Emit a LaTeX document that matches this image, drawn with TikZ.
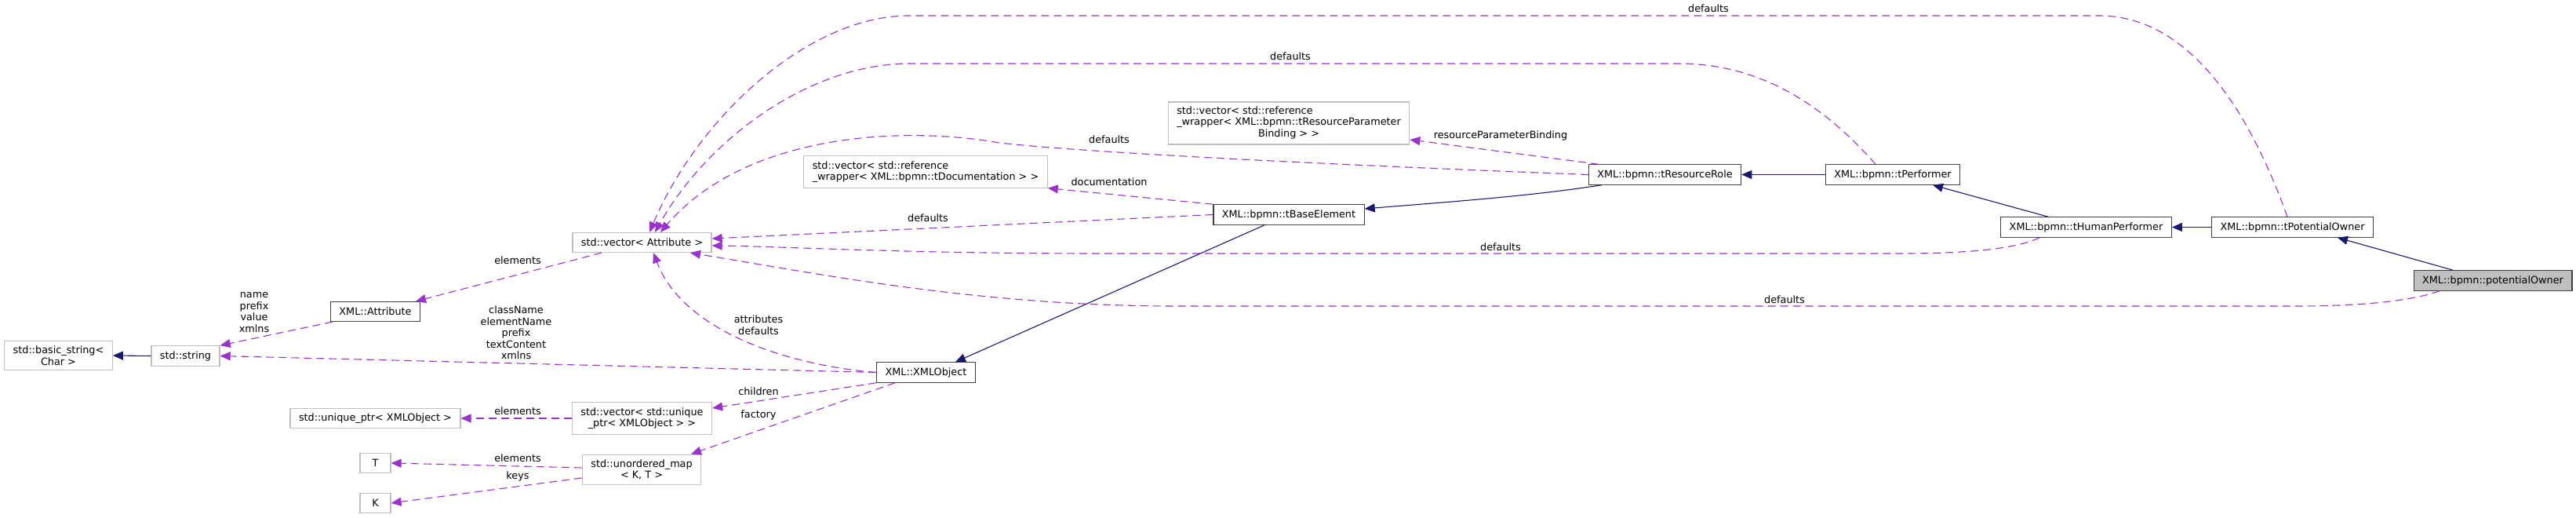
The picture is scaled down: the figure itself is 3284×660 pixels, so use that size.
\documentclass[tikz,border=0pt]{standalone}
\usepackage{fontspec}
\setmainfont{DejaVu Sans}
\usepackage{xcolor}
\usetikzlibrary{arrows.meta}
\definecolor{useedge}{HTML}{9A32CD}
\definecolor{inhedge}{HTML}{191970}
\definecolor{extline}{HTML}{BFBFBF}
\definecolor{clsline}{HTML}{404040}
\definecolor{focusfill}{HTML}{BFBFBF}

\begin{document}
\begin{tikzpicture}[
  x=1pt,y=-1pt,
  font=\fontsize{12.8pt}{14.5pt}\selectfont,
  cls/.style={draw=clsline,line width=1.2pt,fill=white,inner xsep=11pt,inner ysep=6.5pt,minimum height=25pt,minimum width=39pt},
  ext/.style={cls,draw=extline},
  focus/.style={cls,fill=focusfill},
  lbl/.style={inner sep=0pt,align=center},
  uses/.style={-{Triangle[length=13pt,width=11pt]},draw=useedge,line width=1.1pt,dash pattern=on 10pt off 6pt},
  inh/.style={-{Triangle[length=13pt,width=11pt]},draw=inhedge,line width=1.1pt}
]
\fill[white] (0,0) rectangle (3284,660);
\useasboundingbox (0,0) rectangle (3284,660);
% classes
\node[ext,align=center] (bstr) at (74.5,453) {std::basic\_string<\\Char >};
\node[ext] (str) at (236.5,453.5) {std::string};
\node[cls] (attr) at (478.5,397) {XML::Attribute};
\node[ext] (vecattr) at (818.5,309) {std::vector< Attribute >};
\node[ext] (uptr) at (478.5,533) {std::unique\_ptr< XMLObject >};
\node[ext,align=center] (vecuptr) at (818.5,533) {std::vector< std::unique\\\_ptr< XMLObject > >};
\node[ext] (tT) at (478.5,590) {T};
\node[ext] (tK) at (478.5,641) {K};
\node[ext,align=center] (umap) at (818,598.5) {std::unordered\_map\\< K, T >};
\node[cls] (xmlobj) at (1180.5,474.5) {XML::XMLObject};
\node[ext,align=left] (vecdoc) at (1180,219) {std::vector< std::reference\\\_wrapper< XML::bpmn::tDocumentation > >};
\node[ext,inner ysep=5.3pt] (vecrpb) at (1643,157) {\begin{tabular}{@{}l@{}}std::vector< std::reference\\\_wrapper< XML::bpmn::tResourceParameter\\\multicolumn{1}{@{}c@{}}{Binding > >}\end{tabular}};
\node[cls] (base) at (1643,273.5) {XML::bpmn::tBaseElement};
\node[cls] (role) at (2122.5,222.5) {XML::bpmn::tResourceRole};
\node[cls] (perf) at (2413,222.5) {XML::bpmn::tPerformer};
\node[cls] (human) at (2659.5,289.5) {XML::bpmn::tHumanPerformer};
\node[cls] (tpo) at (2922.5,289.5) {XML::bpmn::tPotentialOwner};
\node[focus] (po) at (3178,357.5) {XML::bpmn::potentialOwner};
% labels
\node[lbl] (l-tpo) at (2178,11) {defaults};
\node[lbl] (l-perf) at (1645,72) {defaults};
\node[lbl] (l-role) at (1414,178) {defaults};
\node[lbl] (l-rpb) at (1913,173) {resourceParameterBinding};
\node[lbl] (l-doc) at (1414,232) {documentation};
\node[lbl] (l-base) at (1183,278) {defaults};
\node[lbl] (l-human) at (1913,315) {defaults};
\node[lbl] (l-po) at (2275,382) {defaults};
\node[lbl] (l-attrs) at (967,414) {attributes\\defaults};
\node[lbl] (l-strs) at (658,424) {className\\elementName\\prefix\\textContent\\xmlns};
\node[lbl] (l-names) at (324,398) {name\\prefix\\value\\xmlns};
\node[lbl] (l-elem) at (660,332) {elements};
\node[lbl] (l-child) at (967,499) {children};
\node[lbl] (l-fact) at (967,529) {factory};
\node[lbl] (l-uptr) at (660,524) {elements};
\node[lbl] (l-vals) at (660,584) {elements};
\node[lbl] (l-keys) at (660,607) {keys};
% usage
\draw[uses] ([xshift=-6.5pt]tpo.north) .. controls (2860,120) and (2780,20) .. (2676,20) -- (1159,20) .. controls (1030,20) and (890,150) .. ([xshift=9.5pt]vecattr.north);
\draw[uses] ([xshift=-22pt]perf.north) .. controls (2330,140) and (2250,81) .. (2140,81) -- (1160,81) .. controls (1030,81) and (900,180) .. ([xshift=16.5pt]vecattr.north);
\draw[uses] (role.west) .. controls (1750,212) and (1400,196) .. (1274,182) .. controls (1150,160) and (950,170) .. ([xshift=23.5pt]vecattr.north);
\draw[uses] ([xshift=13pt]role.north west) -- ([yshift=-21pt]vecrpb.east);
\draw[uses] (base.north west) -- (vecdoc.south east);
\draw[uses] (base.west) -- ([yshift=5pt]vecattr.east);
\draw[uses] ([xshift=-59.5pt]human.south) .. controls (2570,318) and (2500,323) .. (2425,323) -- (1400,323) .. controls (1150,323) and (1000,314) .. ([yshift=-4pt]vecattr.east);
\draw[uses] ([xshift=-68pt]po.south) .. controls (3070,385) and (3000,390) .. (2928,390) -- (1500,390) .. controls (1250,390) and (1050,350) .. ([xshift=61.5pt]vecattr.south);
\draw[uses] (xmlobj.west) .. controls (1000,465) and (870,420) .. ([xshift=14.5pt]vecattr.south);
\draw[uses] (xmlobj.west) -- (str.east);
\draw[uses] (xmlobj.south west) -- ([yshift=13pt]vecuptr.east);
\draw[uses] ([xshift=24pt]xmlobj.south west) -- ([xshift=63pt]umap.north);
\draw[uses] ([xshift=-51.5pt]vecattr.south) -- ([xshift=51.5pt]attr.north);
\draw[uses] ([xshift=3pt]attr.south west) -- (str.north east);
\draw[uses] (vecuptr.west) -- (uptr.east);
\draw[uses] ([yshift=2.5pt]umap.west) -- (tT.east);
\draw[uses] ([yshift=-10.5pt]umap.west) -- (tK.east);
% inheritance
\draw[inh] (str.west) -- (bstr.east);
\draw[inh] ([xshift=-31pt]base.south) -- ([xshift=37.5pt]xmlobj.north);
\draw[inh] ([xshift=17pt]role.south west) .. controls (1950,250) and (1850,257) .. ([yshift=7.5pt]base.east);
\draw[inh] (perf.west) -- (role.east);
\draw[inh] ([xshift=-48.5pt]human.north) -- ([xshift=51pt]perf.south);
\draw[inh] (tpo.west) -- (human.east);
\draw[inh] ([xshift=-51pt]po.north) -- ([xshift=57.5pt]tpo.south);
\end{tikzpicture}
\end{document}
